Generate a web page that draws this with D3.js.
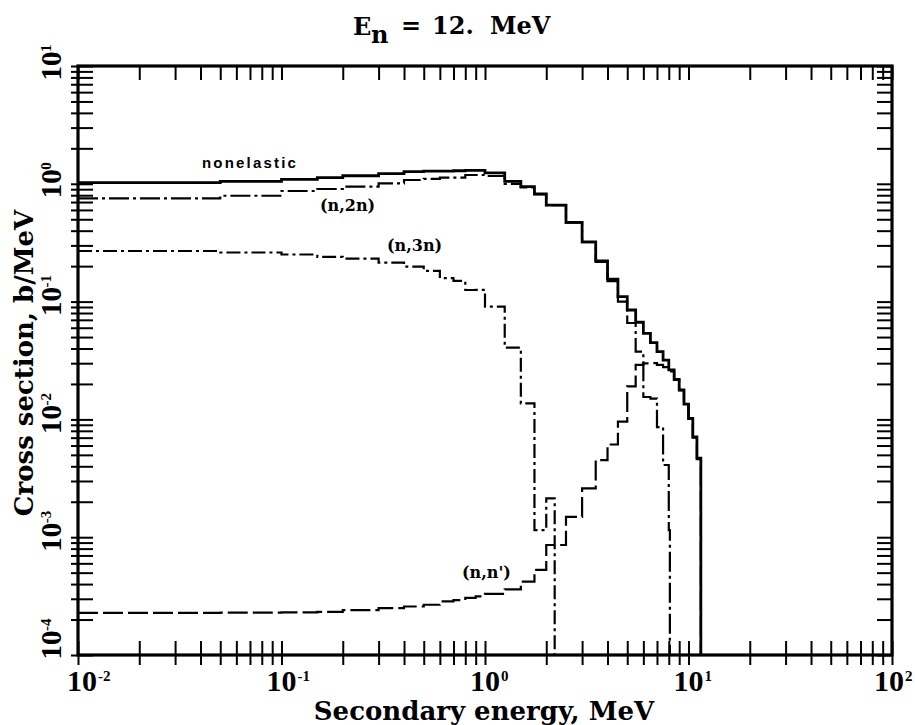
<!DOCTYPE html>
<html><head><meta charset="utf-8">
<script src="https://cdn.jsdelivr.net/npm/d3@7"></script>
<style>body{margin:0;background:#fff;} svg{display:block;}</style>
</head><body>
<svg id="chart" width="915" height="725"></svg>
<script>
// ---- data ----
const xTickExponents = [-2, -1, 0, 1, 2];
const yTickExponents = [-4, -3, -2, -1, 0, 1];

// common secondary-energy bin edges, MeV
const edges = [0.01, 0.05, 0.1, 0.15, 0.2, 0.3, 0.4, 0.5, 0.6, 0.7, 0.8, 0.9, 1.0, 1.25, 1.5, 1.75,
  2.0, 2.5, 3.0, 3.5, 4.0, 4.5, 5.0, 5.5, 6.0, 6.5, 7.0, 7.5, 8.0, 8.5, 9.0, 9.5, 10.0, 10.5, 11.0, 11.5];

// nonelastic, b/MeV
const nonelastic = [1.022, 1.05, 1.09, 1.13, 1.17, 1.22, 1.27, 1.28, 1.28, 1.29, 1.30, 1.30, 1.24, 1.05, 0.945, 0.819,
  0.66, 0.471, 0.322, 0.222, 0.155, 0.110, 0.0849, 0.0668, 0.0538, 0.0448, 0.0376, 0.0319, 0.0263, 0.0219,
  0.0178, 0.0135, 0.0102, 0.0071, 0.0047];

// (n,n')
const nnPrime = [0.000228, 0.000229, 0.000230, 0.000232, 0.000240, 0.000250, 0.000258, 0.000267, 0.000285, 0.000292,
  0.000305, 0.000315, 0.00033, 0.00036, 0.00042, 0.000527, 0.000859, 0.00149, 0.0026, 0.00452, 0.00612, 0.00956,
  0.0191, 0.0290, 0.0299, 0.0300, 0.0290, 0.0278, 0.0255, 0.0216, 0.0176, 0.0134, 0.0101, 0.0070, 0.0046];

// (n,2n)
const n2nEdges = [0.01, 0.05, 0.1, 0.15, 0.2, 0.3, 0.4, 0.5, 0.6, 0.7, 0.8, 0.9, 1.0, 1.25, 1.5, 1.75,
  2.0, 2.5, 3.0, 3.5, 4.0, 4.5, 5.0, 5.5, 6.0, 6.5, 7.0, 7.5, 8.0, 8.1];
const n2n = [0.753, 0.792, 0.869, 0.903, 0.945, 1.01, 1.077, 1.10, 1.127, 1.127, 1.188, 1.188, 1.165, 1.0, 0.93, 0.817,
  0.658, 0.469, 0.319, 0.217, 0.149, 0.100, 0.0658, 0.0376, 0.0155, 0.0150, 0.0086, 0.0041, 0.00115];

// (n,3n)
const n3nEdges = [0.01, 0.05, 0.1, 0.15, 0.2, 0.3, 0.4, 0.5, 0.6, 0.7, 0.8, 0.9, 1.0, 1.25, 1.5, 1.75, 2.0, 2.2];
const n3n = [0.269, 0.261, 0.251, 0.240, 0.232, 0.214, 0.198, 0.182, 0.158, 0.150, 0.1255, 0.126, 0.0905, 0.0406,
  0.0137, 0.00115, 0.00214];

// ---- drawing ----
const svg = d3.select('#chart');
const L = 78, R = 892, T = 66, B = 655;
const x = d3.scaleLog().domain([1e-2, 1e2]).range([L, R]);
const y = d3.scaleLog().domain([1e-4, 1e1]).range([B, T]);

svg.append('defs').append('clipPath').attr('id', 'clip')
  .append('rect').attr('x', L).attr('y', T).attr('width', R - L).attr('height', B - T);

function stepPath(ed, vals) {
  const pts = vals.map((v, i) => [ed[i], v]);
  pts.push([ed[ed.length - 1], vals[vals.length - 1]]);
  pts.push([ed[ed.length - 1], 1e-4]);
  return d3.line().x(d => x(d[0])).y(d => y(d[1])).curve(d3.curveStepAfter)(pts);
}

const g = svg.append('g').attr('clip-path', 'url(#clip)');
const series = [
  {e: edges, v: nnPrime, dash: '20,5', w: 2.2},
  {e: n3nEdges, v: n3n, dash: '14,4,3,4', w: 2.2},
  {e: n2nEdges, v: n2n, dash: '20,4,3,4', w: 2.2},
  {e: edges, v: nonelastic, dash: null, w: 2.8}
];
series.forEach(s => {
  g.append('path').attr('d', stepPath(s.e, s.v)).attr('fill', 'none').attr('stroke', '#000')
    .attr('stroke-width', s.w).attr('stroke-dasharray', s.dash).attr('stroke-linejoin', 'miter');
});

// axes with ticks
const xt = x.ticks();
const yt = y.ticks();
const ax = svg.append('g').attr('class', 'axes');
const axBottom = ax.append('g').attr('transform', `translate(0,${B})`)
  .call(d3.axisBottom(x).tickValues(xt).tickFormat('').tickSizeOuter(0));
axBottom.selectAll('.tick line').attr('y1', -14).attr('y2', 10);
const axTop = ax.append('g').attr('transform', `translate(0,${T})`)
  .call(d3.axisTop(x).tickValues(xt).tickFormat('').tickSizeOuter(0));
axTop.selectAll('.tick line').attr('y1', 0).attr('y2', 14);
const axLeft = ax.append('g').attr('transform', `translate(${L},0)`)
  .call(d3.axisLeft(y).tickValues(yt).tickFormat('').tickSizeOuter(0));
axLeft.selectAll('.tick line').attr('x1', -7).attr('x2', 15);
const axRight = ax.append('g').attr('transform', `translate(${R},0)`)
  .call(d3.axisRight(y).tickValues(yt).tickFormat('').tickSizeOuter(0));
axRight.selectAll('.tick line').attr('x1', -15).attr('x2', 0);
ax.selectAll('.domain').remove();
ax.selectAll('.tick line').attr('stroke', '#000').attr('stroke-width', 2);
svg.append('rect').attr('x', L).attr('y', T).attr('width', R - L).attr('height', B - T)
  .attr('fill', 'none').attr('stroke', '#000').attr('stroke-width', 3.2);

// tick labels
const tickFont = "'Liberation Serif', 'Times New Roman', serif";
xTickExponents.forEach((e, i) => {
  const last = i === xTickExponents.length - 1;
  const px = x(Math.pow(10, e)) + (i === 0 ? 4 : (last ? -3 : 0));
  svg.append('text').attr('x', px).attr('y', 691).attr('text-anchor', 'middle')
    .attr('font-family', tickFont).attr('font-weight', 'bold').attr('font-size', 30).text('10');
  svg.append('text').attr('x', px + 16).attr('y', 681).attr('text-anchor', 'start')
    .attr('font-family', tickFont).attr('font-weight', 'bold').attr('font-size', 15).text(String(e));
});
yTickExponents.forEach((e, i) => {
  const py = y(Math.pow(10, e)) - (i === 0 ? 10 : 0);
  const gg = svg.append('g').attr('transform', `translate(61,${py}) rotate(-90)`);
  gg.append('text').attr('x', 0).attr('y', 0).attr('text-anchor', 'middle')
    .attr('font-family', tickFont).attr('font-weight', 'bold').attr('font-size', 29).text('10');
  gg.append('text').attr('x', 14).attr('y', -10).attr('text-anchor', 'start')
    .attr('font-family', tickFont).attr('font-weight', 'bold').attr('font-size', 15).text(String(e));
});

// axis titles
const serif = "'DejaVu Serif', serif";
svg.append('text').attr('x', 484).attr('y', 720).attr('text-anchor', 'middle')
  .attr('font-family', serif).attr('font-weight', 'bold').attr('font-size', 26).text('Secondary energy, MeV');
svg.append('text').attr('transform', 'translate(33,363) rotate(-90)').attr('text-anchor', 'middle')
  .attr('font-family', serif).attr('font-weight', 'bold').attr('font-size', 26).text('Cross section, b/MeV');

// title
const title = svg.append('g').attr('font-family', serif).attr('font-weight', 'bold').attr('font-size', 24);
title.append('text').attr('x', 353).attr('y', 35).text('E');
title.append('text').attr('x', 371).attr('y', 43).text('n');
title.append('text').attr('x', 401).attr('y', 34).text('=');
title.append('text').attr('x', 432).attr('y', 34).text('12.');
title.append('text').attr('x', 490).attr('y', 34).text('MeV');

// curve labels
svg.append('text').attr('x', 250).attr('y', 168).attr('text-anchor', 'middle')
  .attr('font-family', "'Liberation Sans', Arial, sans-serif").attr('font-weight', 'bold')
  .attr('font-size', 15).attr('letter-spacing', 2.2).text('nonelastic');
const lab = [['(n,2n)', 320, 211], ['(n,3n)', 387, 251], ["(n,n')", 462, 578]];
lab.forEach(l => {
  svg.append('text').attr('x', l[1]).attr('y', l[2]).attr('font-family', serif).attr('font-weight', 'bold')
    .attr('font-size', 16).text(l[0]);
});
</script>
</body></html>
